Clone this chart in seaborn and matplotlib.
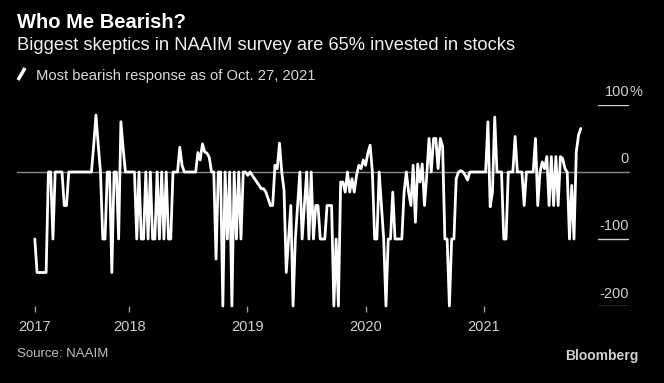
import matplotlib
matplotlib.use("Agg")
import pandas as pd
import matplotlib.pyplot as plt
import seaborn as sns
from matplotlib.lines import Line2D

# weekly NAAIM "most bearish" response, Mar 2017 - Oct 27, 2021
start_date = "2017-03-15"
bearish = [
    -100, -150, -150, -150, -150, -150, 0, 0, -100, 0,
    0, 0, 0, -50, -50, 0, 0, 0, 0, 0,
    0, 0, 0, 0, 0, 0, 40, 85, 40, 0,
    -100, -100, 0, 0, -150, 0, 0, -100, 75, 35,
    0, 0, 0, 0, 0, -100, 0, -100, -100, 0,
    -100, 0, -100, -100, 0, -100, 0, -100, 0, -100,
    -100, 0, 0, 0, 37, 10, 0, 0, 0, 0,
    0, 0, 29, 18, 42, 30, 28, 22, 0, 0,
    -130, 0, 0, -200, 0, -100, 0, -200, 0, -100,
    0, -100, 0, 0, -5, 0, -5, -10, -15, -20,
    -25, -25, -30, -40, -50, -50, 10, 5, 43, 0,
    -27, -150, -100, -50, -200, -100, -50, 0, -100, -50,
    0, -100, 0, -100, -50, -50, -100, -100, -100, -50,
    -50, -50, -200, -100, -200, -15, -15, -30, 0, -30,
    -10, -30, -5, 10, 5, 18, 10, 28, 40, 0,
    -100, -100, 0, -50, -100, -200, -100, -100, -30, -100,
    -100, -100, -100, -30, 0, -30, -50, 10, -75, 12,
    -15, 12, -50, -5, 50, 0, 50, 50, 5, 50,
    38, -100, -100, -200, -100, -100, -10, 0, 2, 0,
    -5, -12, 0, 0, 0, 0, 0, 0, 0, 0,
    75, -52, -30, 82, 0, 0, 0, -100, -100, 0,
    0, 0, 53, 0, 0, 0, -50, 0, 0, 0,
    0, 50, -50, 0, 15, 5, 23, -50, 23, -50,
    23, -50, 23, 20, 5, 0, -100, -20, -100, 30,
    55, 65,
]
dates = pd.date_range(start_date, periods=len(bearish), freq="7D")

tick_dates = [start_date, "2018-01-01", "2019-01-01", "2020-01-01", "2021-01-01"]
tick_labels = ["2017", "2018", "2019", "2020", "2021"]
y_levels = [100, 0, -100, -200]
y_labels = ["100", "0", "-100", "-200"]

sns.set_theme(style="ticks", rc={"axes.facecolor": "black", "figure.facecolor": "black"})
plt.rcParams["font.family"] = ["Liberation Sans", "DejaVu Sans"]

W, H = 664, 383
fig = plt.figure(figsize=(W / 100, H / 100), dpi=100)
ax = fig.add_axes([17 / W, (H - 306) / H, 613 / W, (306 - 105) / H])

df = pd.DataFrame({"date": dates, "value": bearish})
ax.axhline(0, color="#8a8a8a", lw=1, zorder=1)
sns.lineplot(data=df, x="date", y="value", ax=ax, color="white",
             linewidth=2.0, clip_on=False, zorder=3)

ax.set_ylim(-200, 100)
ax.set_xlim(pd.Timestamp("2017-01-19"), pd.Timestamp("2022-03-28"))
for s in ax.spines.values():
    s.set_visible(False)
ax.set_xlabel("")
ax.set_ylabel("")
ax.set_yticks([])
ax.set_xticks(pd.to_datetime(tick_dates))
ax.set_xticklabels(tick_labels)
ax.tick_params(axis="x", colors="#9a9a9a", labelcolor="#cfcfcf", length=4,
               width=1, pad=6, labelsize=10.5, direction="out")

# right-hand value labels with short rules underneath
x0, x1 = (598 - 17) / 613, (628 - 17) / 613
for v, lab in zip(y_levels, y_labels):
    if v != 0:
        ax.axhline(v, xmin=x0, xmax=x1, color="#d0d0d0", lw=1)
    ax.annotate(lab, xy=(1, v), xycoords=("axes fraction", "data"),
                xytext=(-1, 8.5), textcoords="offset pixels",
                ha="right", va="baseline", color="#cfcfcf", fontsize=10.5)
    if v == 100:
        ax.annotate("%", xy=(1, v), xycoords=("axes fraction", "data"),
                    xytext=(-1, 8.5), textcoords="offset pixels",
                    ha="left", va="baseline", color="#cfcfcf", fontsize=10.5)

# titles
fig.text(17 / W, 1 - 28 / H, "Who Me Bearish?", color="white", fontsize=14.5,
         fontweight="bold", va="baseline")
fig.text(17 / W, 1 - 50 / H, "Biggest skeptics in NAAIM survey are 65% invested in stocks",
         color="#f0f0f0", fontsize=13.2, va="baseline")

# legend
fig.add_artist(Line2D([18 / W, 25 / W], [1 - 80 / H, 1 - 68 / H], color="white",
                      lw=2.5, solid_capstyle="butt"))
fig.text(36 / W, 1 - 80 / H, "Most bearish response as of Oct. 27, 2021",
         color="#d9d9d9", fontsize=10.6, va="baseline")

# footer
fig.text(17 / W, 1 - 357 / H, "Source: NAAIM", color="#bfbfbf", fontsize=9.5,
         va="baseline")
fig.text(638 / W, 1 - 360 / H, "Bloomberg", color="#d0d0d0", fontsize=10,
         fontweight="bold", ha="right", va="baseline")

fig.savefig("out.png", dpi=100, facecolor="black")
